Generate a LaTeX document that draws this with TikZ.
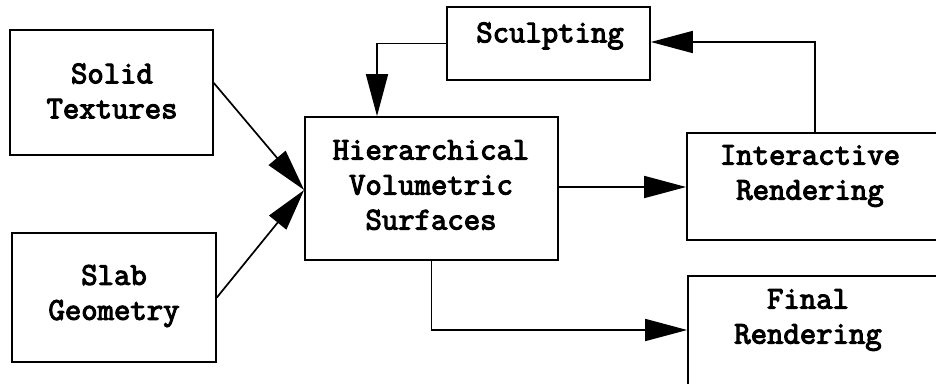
\documentclass[tikz,border=0pt]{standalone}
\usepackage{fontspec}
\newfontfamily\courb[AutoFakeBold=3.5]{Latin Modern Mono}
\usetikzlibrary{arrows.meta}
\begin{document}
\begin{tikzpicture}[x=1pt,y=-1pt,
  box/.style={draw, line width=1.7pt, inner sep=0pt, minimum width=#1},
  lbl/.style={font=\courb\bfseries\fontsize{31.8}{35}\selectfont, align=center, inner sep=0pt},
  conn/.style={line width=1.7pt, -{Triangle[length=42pt,width=22pt]}}]
\clip (0,0) rectangle (936,383);
\fill[white] (0,0) rectangle (936,383);
% boxes
\node[box=203pt, minimum height=125pt] (solid) at (111.5,92.5) {};
\node[box=204pt, minimum height=129pt] (slab) at (114,297.5) {};
\node[box=253pt, minimum height=143pt] (hier) at (431.5,188.5) {};
\node[box=203pt, minimum height=73pt] (sc) at (548.5,43.5) {};
\node[box=263pt, minimum height=107pt] (ir) at (818.5,186.5) {};
\node[box=262pt, minimum height=119pt] (fr) at (819,335.5) {};
% labels
\node[lbl] (solidt) at (112,91) {Solid\\Textures};
\node[lbl] (slabt) at (114,296) {Slab\\Geometry};
\node[lbl] (hiert) at (431,185) {Hierarchical\\Volumetric\\Surfaces};
\node[lbl] (sct) at (550,36) {Sculpting};
\node[lbl] (irt) at (810,176) {Interactive\\Rendering};
\node[lbl] (frt) at (808,320) {Final\\Rendering};
% connectors
\draw[conn] ([yshift=9.5pt]solid.east) -- ([yshift=-1.5pt]hier.west);
\draw[conn] (slab.east) -- ([yshift=-1.5pt]hier.west);
\draw[conn] (sc.west) -| ([xshift=-54.5pt]hier.north);
\draw[conn] ([xshift=-3.5pt]ir.north) |- ([yshift=1.5pt]sc.east);
\draw[conn] ([yshift=1.5pt]hier.east) -- ([yshift=1.5pt]hier.east -| ir.west);
\draw[conn] (hier.south) |- ([yshift=5.5pt]fr.west);
\end{tikzpicture}
\end{document}
